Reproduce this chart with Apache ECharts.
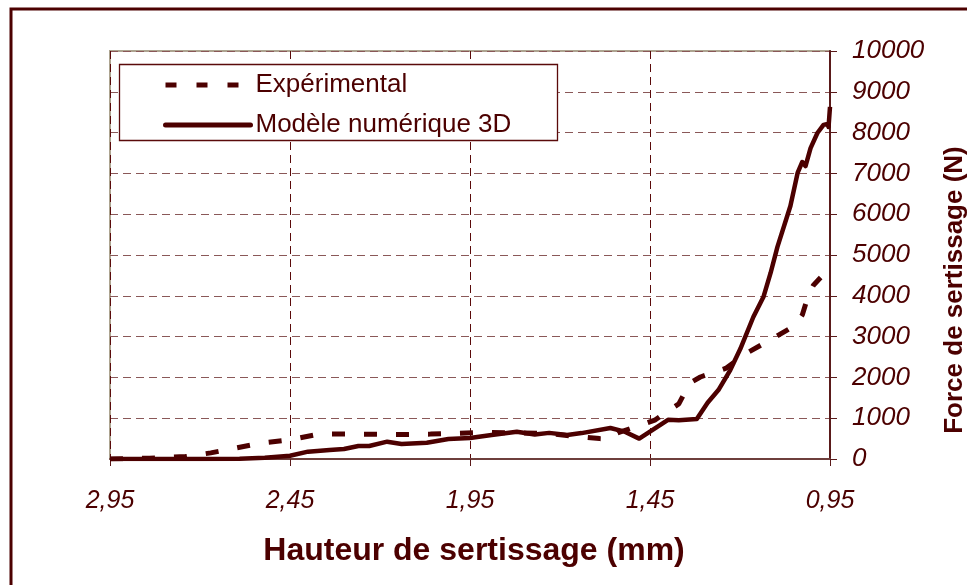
<!DOCTYPE html>
<html>
<head>
<meta charset="utf-8">
<script src="https://cdn.jsdelivr.net/npm/echarts@6/dist/echarts.min.js"></script>
<style>
  html, body { margin: 0; padding: 0; background: #ffffff; }
  #chart { width: 967px; height: 585px; }
</style>
</head>
<body>
<div id="chart"></div>
<script>
// Crimping height (mm) and crimping force (N)
const expHeight = [2.95, 2.84, 2.74, 2.67, 2.60, 2.53, 2.45, 2.37, 2.26, 2.14, 2.06, 1.98, 1.91, 1.81, 1.73, 1.64, 1.59, 1.56, 1.54, 1.48, 1.435, 1.41, 1.37, 1.34, 1.31, 1.24, 1.18, 1.10, 1.046, 1.027, 1.01, 0.996, 0.976];
const expForce  = [0, 20, 60, 150, 270, 390, 470, 610, 610, 600, 610, 630, 650, 640, 620, 540, 500, 490, 640, 820, 960, 1120, 1350, 1860, 2010, 2220, 2600, 3000, 3280, 3530, 4020, 4260, 4450];

const modelHeight = [2.95, 2.84, 2.70, 2.59, 2.52, 2.45, 2.40, 2.34, 2.30, 2.26, 2.23, 2.18, 2.14, 2.07, 2.01, 1.95, 1.89, 1.82, 1.77, 1.73, 1.68, 1.64, 1.56, 1.52, 1.48, 1.40, 1.37, 1.32, 1.29, 1.26, 1.227, 1.199, 1.163, 1.135, 1.115, 1.096, 1.06, 1.04, 1.027, 1.018, 1.004, 0.985, 0.968, 0.957, 0.954, 0.95];
const modelForce  = [0, 0, 0, 5, 30, 80, 180, 220, 245, 320, 320, 425, 370, 400, 490, 515, 590, 670, 600, 640, 590, 635, 760, 670, 500, 960, 950, 980, 1380, 1690, 2180, 2700, 3480, 3970, 4560, 5200, 6200, 7010, 7280, 7180, 7620, 7990, 8190, 8210, 8140, 8630];

const seriesNames = ['Expérimental', 'Modèle numérique 3D'];
const xTitle = 'Hauteur de sertissage (mm)';
const yTitle = 'Force de sertissage (N)';

// Height axis runs from 0,95 (right) to 2,95 (left); values are offset by the
// axis origin so ticks fall every 0,5 mm starting at 0,95.
const X0 = 0.95;
const toPairs = (hs, fs) => hs.map((h, i) => [+(h - X0).toFixed(4), fs[i]]);

const maroon = '#4C0000';
const font = 'Liberation Sans, Arial, sans-serif';
const chart = echarts.init(document.getElementById('chart'), null, { renderer: 'canvas' });

chart.setOption({
  animation: false,
  backgroundColor: '#ffffff',
  color: [maroon, maroon],
  grid: {
    left: 110, right: 137, top: 51, bottom: 126,
    outerBoundsMode: 'none',
    containLabel: false,
    show: true, borderColor: '#ADA490', borderWidth: 2, backgroundColor: 'transparent'
  },
  legend: {
    orient: 'vertical',
    left: 158, top: 67,
    itemWidth: 85, itemHeight: 26, itemGap: 14,
    textStyle: { color: maroon, fontFamily: font, fontSize: 26, lineHeight: 26 },
    itemStyle: { color: 'transparent', borderWidth: 0, opacity: 0 },
    data: [
      { name: seriesNames[0], lineStyle: { type: [11, 20], width: 5, color: maroon } },
      { name: seriesNames[1], lineStyle: { type: 'solid', width: 5, color: maroon, cap: 'round' } }
    ]
  },
  graphic: [
    { type: 'rect', z: 100, silent: true,
      shape: { x: 11, y: 9, width: 1200, height: 1000 },
      style: { fill: 'none', stroke: maroon, lineWidth: 3 } },
    { type: 'rect', z: 1, silent: true,
      shape: { x: 119.5, y: 64.5, width: 438, height: 76 },
      style: { fill: '#ffffff', stroke: '#5A0A0A', lineWidth: 1.3 } },
    { type: 'text', z: 50, silent: true,
      x: 955, y: 290, rotation: Math.PI / 2,
      style: { text: yTitle, fill: maroon, font: 'bold 26px ' + font, align: 'center', verticalAlign: 'middle' } }
  ],
  xAxis: {
    type: 'value',
    inverse: true,
    min: 0, max: 2, interval: 0.5,
    name: xTitle,
    nameLocation: 'middle',
    nameGap: 76,
    nameTextStyle: { color: maroon, fontFamily: font, fontSize: 32, fontWeight: 'bold', padding: [0, 0, 0, 8] },
    axisLine: { show: true, onZero: false, lineStyle: { color: '#6E3F3C', width: 2 } },
    axisTick: { show: true, length: 7, lineStyle: { color: '#5A1A1A', width: 1 } },
    axisLabel: {
      margin: 30,
      color: maroon, fontFamily: font, fontSize: 25, fontStyle: 'italic',
      formatter: v => (v + X0).toFixed(2).replace('.', ',')
    },
    splitLine: { show: true, lineStyle: { color: '#5A0A0A', width: 1, type: [8, 5] } }
  },
  yAxis: {
    type: 'value',
    position: 'right',
    min: 0, max: 10000, interval: 1000,
    axisLine: { show: true, lineStyle: { color: '#5A1A1A', width: 2 } },
    axisTick: { show: true, length: 7, lineStyle: { color: '#5A1A1A', width: 1 } },
    axisLabel: {
      margin: 22,
      color: maroon, fontFamily: font, fontSize: 26, fontStyle: 'italic',
      formatter: v => String(v)
    },
    splitLine: { show: true, lineStyle: { color: '#8A5858', width: 1, type: [8, 5] } }
  },
  series: [
    {
      name: seriesNames[0],
      type: 'line',
      data: toPairs(expHeight, expForce),
      showSymbol: false, symbol: 'none',
      itemStyle: { color: maroon },
      lineStyle: { color: maroon, width: 5, type: [13, 19] },
      z: 3
    },
    {
      name: seriesNames[1],
      type: 'line',
      data: toPairs(modelHeight, modelForce),
      showSymbol: false, symbol: 'none',
      itemStyle: { color: maroon },
      lineStyle: { color: maroon, width: 4.5, join: 'round' },
      z: 4
    }
  ]
});
</script>
</body>
</html>
